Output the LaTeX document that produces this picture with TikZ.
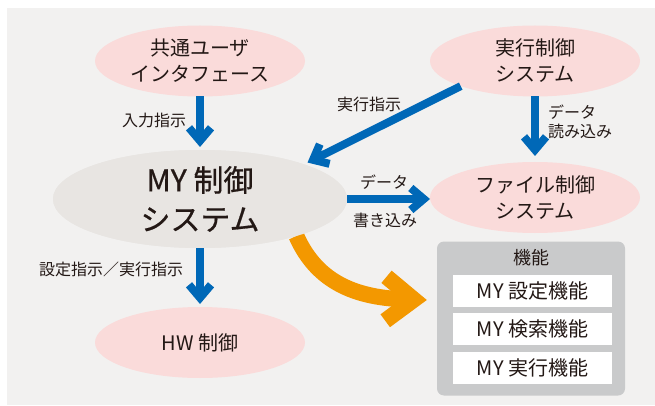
\documentclass[tikz,border=0pt]{standalone}
\usepackage{fontspec}
\setmainfont{Noto Sans CJK JP}
\newfontfamily\heavyfont[FakeBold=0.6]{Noto Sans CJK JP}
\usetikzlibrary{arrows.meta,shapes.geometric}
\definecolor{bgc}{HTML}{F2F1F0}
\definecolor{pinkfill}{HTML}{FADBDA}
\definecolor{grayfill}{HTML}{E8E5E2}
\definecolor{boxgray}{HTML}{C9CACB}
\definecolor{blueA}{HTML}{0068B7}
\definecolor{orangeA}{HTML}{F39800}
\definecolor{txt}{HTML}{231815}
\begin{document}
\begin{tikzpicture}[x=1pt,y=-1pt,
  pinkell/.style={ellipse, fill=pinkfill, minimum width=210pt, minimum height=71pt,
    inner sep=0pt, outer sep=0pt, align=center, text=txt, font=\fontsize{20}{26}\selectfont},
  myell/.style={ellipse, fill=grayfill, minimum width=294pt, minimum height=98pt,
    inner sep=0pt, outer sep=0pt, align=center, text=txt, font=\heavyfont\fontsize{30}{39}\selectfont},
  lbl/.style={text=txt, inner sep=0pt, font=\fontsize{16}{19}\selectfont},
  funcbox/.style={fill=boxgray, rounded corners=7pt, minimum width=188pt, minimum height=154pt, inner sep=0pt},
  itembox/.style={fill=white, minimum width=159pt, minimum height=32pt, inner sep=0pt, text=txt,
    font=\fontsize{20}{24}\selectfont},
  bluearrow/.style={draw=blueA, line width=8pt,
    -{Straight Barb[length=13pt,width=22pt]}},
  orangearrow/.style={draw=orangeA, line width=16pt,
    -{Straight Barb[length=28pt,width=44pt]}},
]
\useasboundingbox (0,0) rectangle (655,406);
\fill[bgc] (7,8) rectangle (655,405);

% orange arrow behind the ellipse
\node[myell] (my) at (200,199) {MY 制御\\システム};
\node[funcbox] (func) at (531,318.5) {};
\draw[orangearrow] (my.-21) .. controls (318,285) and (360,298) .. ([shift={(-10,-18.5)}]func.west);
\node[myell] (my2) at (200,199) {MY 制御\\システム};

\node[pinkell] (ui) at (200,61) {共通ユーザ\\インタフェース};
\node[pinkell] (exec) at (535,61) {実行制御\\システム};
\node[pinkell] (file) at (535,197.5) {ファイル制御\\システム};
\node[pinkell] (hw) at (200,342.5) {HW 制御};

\node[text=txt, inner sep=0pt, font=\fontsize{18}{22}\selectfont] (ftitle) at (531,258) {機能};
\node[itembox] (f1) at (532.5,291) {MY 設定機能};
\node[itembox] (f2) at (532.5,329) {MY 検索機能};
\node[itembox] (f3) at (532.5,368) {MY 実行機能};

\draw[bluearrow, shorten >=3pt] (ui.south) -- (my.north);
\draw[bluearrow, shorten >=4pt] (exec.south west) -- (my.north east);
\draw[bluearrow, shorten >=6pt] (exec.south) -- (file.north);
\draw[bluearrow] (my.east) -- (my.east -| file.west);
\draw[bluearrow, shorten >=3pt] (my.south) -- (hw.north);

\node[lbl] (l1) at (154,120) {入力指示};
\node[lbl] (l2) at (369,104) {実行指示};
\node[lbl, anchor=west, align=left] (l3) at (548,122) {データ\\読み込み};
\node[lbl] (l4) at (384,182) {データ};
\node[lbl] (l5) at (385,220) {書き込み};
\node[lbl] (l6) at (111,269) {設定指示／実行指示};
\end{tikzpicture}
\end{document}
